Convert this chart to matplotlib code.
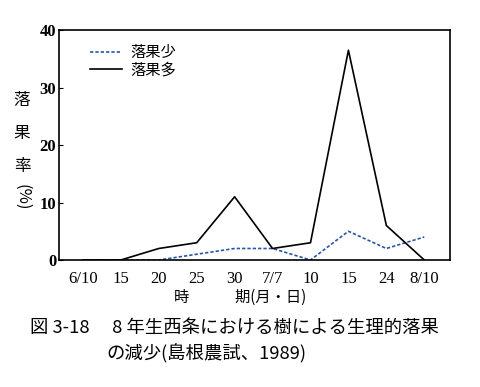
import matplotlib
matplotlib.use("Agg")
import matplotlib.pyplot as plt

# data
dates = ["6/10", "15", "20", "25", "30", "7/7", "10", "15", "24", "8/10"]
drop_many = [0, 0, 2, 3, 11, 2, 3, 36.5, 6, 0]
drop_few = [0, 0, 0, 1, 2, 2, 0, 5, 2, 4]
yticks = [0, 10, 20, 30, 40]

jp = ["Noto Sans CJK JP", "DejaVu Sans"]
num = "Liberation Serif"

fig = plt.figure(figsize=(4.81, 3.87), dpi=100)
ax = fig.add_axes([0.1227, 0.3282, 0.813, 0.594])

x = list(range(len(dates)))
ax.plot(x, drop_few, color="#2a55a8", linestyle=(0, (2, 1.2)), linewidth=1.2, label="落果少")
ax.plot(x, drop_many, color="black", linewidth=1.2, label="落果多")

ax.set_xlim(-0.63, 9.68)
ax.set_ylim(0, 40)
ax.set_xticks(x)
ax.set_xticklabels(dates, fontfamily=num, fontsize=12)
ax.set_yticks(yticks)
ax.set_yticklabels([str(v) for v in yticks], fontfamily=num, fontsize=12, fontweight="bold")
ax.tick_params(axis="x", length=0, pad=8)
ax.tick_params(axis="y", length=3, direction="in", pad=2)
for s in ax.spines.values():
    s.set_linewidth(1.2)

leg = ax.legend(loc="upper left", bbox_to_anchor=(0.045, 1.0), frameon=False,
                prop={"family": jp, "size": 11}, handlelength=2.1,
                labelspacing=0.05, handletextpad=0.5)

# vertical y label
fig.text(0.046, 0.74, "落", fontfamily=jp, fontsize=12, ha="center", va="center")
fig.text(0.046, 0.655, "果", fontfamily=jp, fontsize=12, ha="center", va="center")
fig.text(0.046, 0.57, "率", fontfamily=jp, fontsize=12, ha="center", va="center")
fig.text(0.046, 0.49, "(%)", fontfamily=jp, fontsize=12, ha="center", va="center", rotation=-90)

fig.text(0.5, 0.232, "時　　　期(月・日)", fontfamily=jp, fontsize=11, ha="center", va="center")
fig.text(0.062, 0.152, "図 3-18　 8 年生西条における樹による生理的落果", fontfamily=jp, fontsize=13.2, ha="left", va="center")
fig.text(0.222, 0.085, "の減少(島根農試、1989)", fontfamily=jp, fontsize=13.2, ha="left", va="center")

fig.savefig("out.png", dpi=100)
